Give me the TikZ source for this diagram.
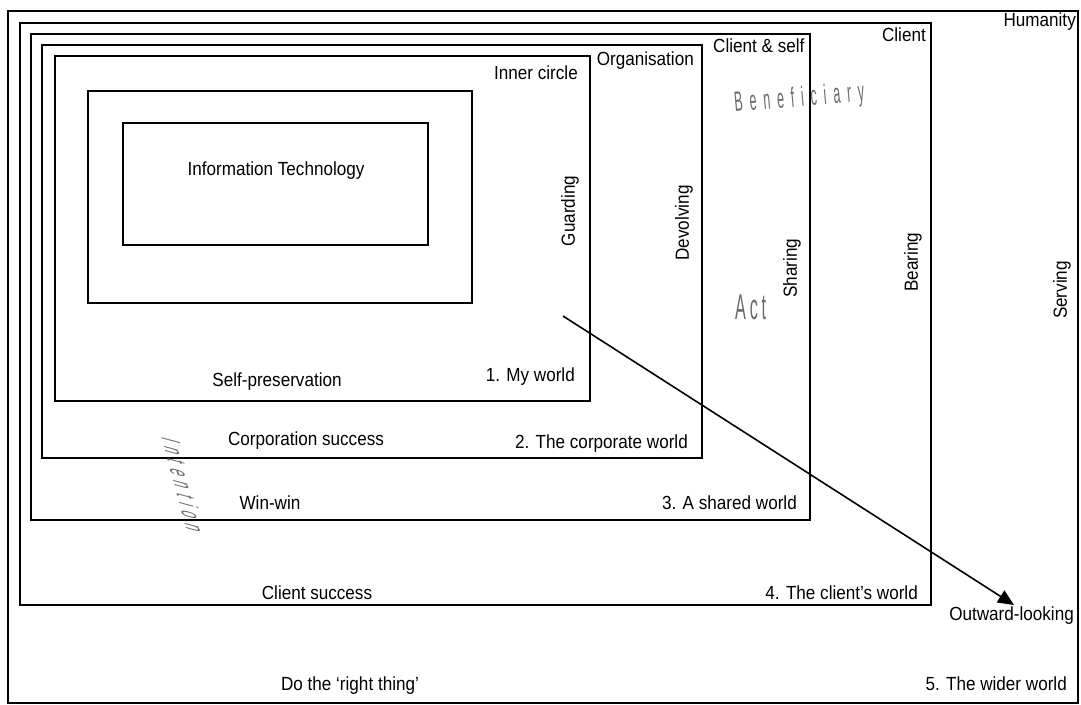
\documentclass[tikz,border=0pt]{standalone}
\usepackage{fontspec}
\setmainfont{Liberation Sans}[FakeStretch=0.9]
\newfontfamily\thinfont{Liberation Sans}[FakeStretch=0.45]
\usetikzlibrary{arrows.meta}
\definecolor{faint}{gray}{0.42}
% letter gaps for the spaced-out grey words
\newcommand\gapB{\kern6.8pt\relax}
\newcommand\gapA{\kern3.8pt\relax}
\newcommand\gapI{\kern6pt\relax}

\begin{document}
\begin{tikzpicture}[x=1pt,y=-1pt,
  frame/.style={draw=black, line width=1.6pt},
  lbl/.style={inner sep=0pt, font=\fontsize{19}{22}\selectfont},
  vlbl/.style={lbl, rotate=90},
  ghost/.style={inner sep=0pt, text=faint},
  pointer/.style={line width=1.6pt, -{Triangle[length=16pt,width=14pt]}}]
\useasboundingbox (0,0) rectangle (1081,704);

% nested worlds, outermost first
\draw[frame] (8,11)    rectangle (1078,703);
\draw[frame] (20,23)   rectangle (931,605);
\draw[frame] (31,34)   rectangle (810,520);
\draw[frame] (42,45)   rectangle (702,458);
\draw[frame] (55,56)   rectangle (590,401);
\draw[frame] (88,91)   rectangle (472,303);
\draw[frame] (123,123) rectangle (428,245);

% beneficiaries along the top
\node[lbl, anchor=base east] (humanity) at (1076,27) {Humanity};
\node[lbl, anchor=base east] (client)   at (926,41)  {Client};
\node[lbl, anchor=base west] (clself)   at (713,52)  {Client \& self};
\node[lbl, anchor=base east] (org)      at (694,65)  {Organisation};
\node[lbl, anchor=base east] (inner)    at (578,79)  {Inner circle};
\node[lbl, anchor=base]      (it)       at (276,175) {Information Technology};

% acts, running upward
\node[vlbl] (guard)  at (570,211)  {Guarding};
\node[vlbl] (devolv) at (684,223)  {Devolving};
\node[vlbl] (share)  at (792,268)  {Sharing};
\node[vlbl] (bear)   at (913,262)  {Bearing};
\node[vlbl] (serve)  at (1062,290) {Serving};

% intentions and world names
\node[lbl, anchor=base]      (selfp)  at (277,386) {Self-preservation};
\node[lbl, anchor=base east] (w1)     at (575,381) {1. My world};
\node[lbl, anchor=base]      (corps)  at (306,445) {Corporation success};
\node[lbl, anchor=base east] (w2)     at (688,448) {2. The corporate world};
\node[lbl, anchor=base]      (winwin) at (270,509) {Win-win};
\node[lbl, anchor=base east] (w3)     at (797,509) {3. A shared world};
\node[lbl, anchor=base]      (clsucc) at (317,599) {Client success};
\node[lbl, anchor=base east] (w4)     at (918,599) {4. The client’s world};
\node[lbl, anchor=base east] (outw)   at (1074,620) {Outward-looking};
\node[lbl, anchor=base]      (right)  at (350,690) {Do the ‘right thing’};
\node[lbl, anchor=base east] (w5)     at (1067,690) {5. The wider world};

% grey axis names
\node[ghost, anchor=base west, rotate=5, font=\thinfont\fontsize{28}{30}\selectfont]
  (benef) at (735,112) {B\gapB e\gapB n\gapB e\gapB f\gapB i\gapB c\gapB i\gapB a\gapB r\gapB y};
\node[ghost, anchor=base west, font=\thinfont\fontsize{36}{38}\selectfont]
  (act) at (735,319) {A\gapA c\gapA t};
% running downward, letters sheared so their stems lie almost flat
\node[ghost, anchor=base west, cm={0.26,-0.965,0.965,-0.26,(0,0)},
      font=\thinfont\fontsize{28}{30}\selectfont]
  (intent) at (161,436) {I\gapI n\gapI t\gapI e\gapI n\gapI t\gapI i\gapI o\gapI n};

% outward-looking direction
\coordinate (tail) at (563,316);
\coordinate (tip)  at (1014,605);
\draw[pointer] (tail) -- (tip);
\end{tikzpicture}
\end{document}
